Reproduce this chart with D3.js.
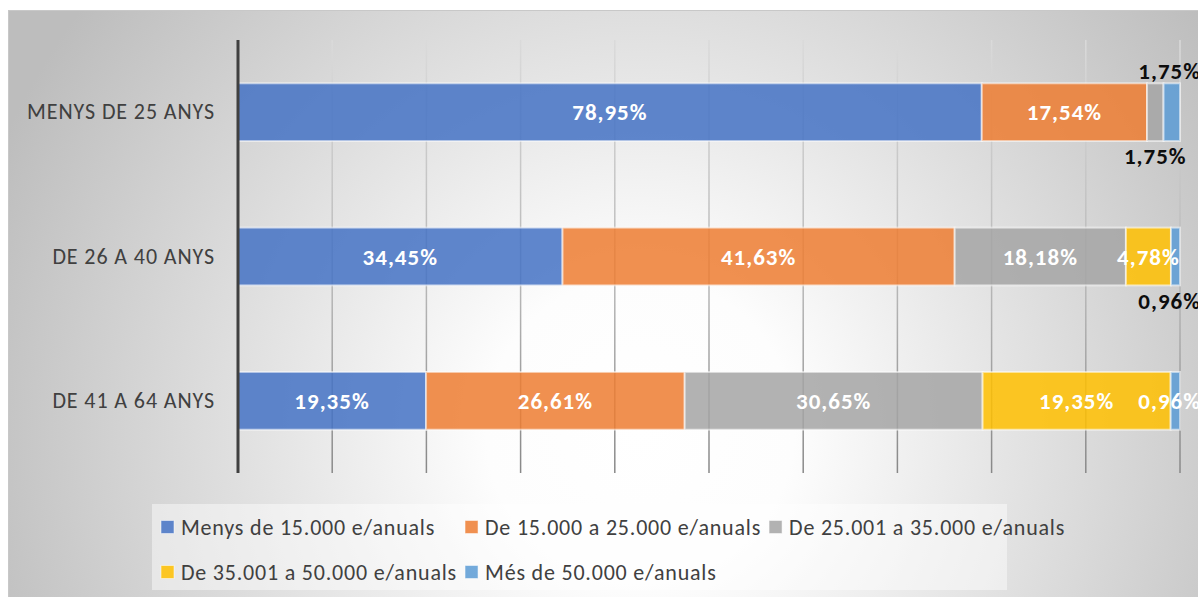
<!DOCTYPE html>
<html>
<head>
<meta charset="utf-8">
<script src="https://cdn.jsdelivr.net/npm/d3@7"></script>
<style>
  html, body { margin: 0; padding: 0; background: #ffffff; overflow: hidden; }
  svg { display: block; }
</style>
</head>
<body>
<svg id="chart" width="1198" height="597"></svg>
<script>
// Age groups (rows) and income bands (stacked series)
const categories = ["MENYS DE 25 ANYS", "DE 26 A 40 ANYS", "DE 41 A 64 ANYS"];
const seriesNames = [
  "Menys de 15.000 e/anuals",
  "De 15.000 a 25.000 e/anuals",
  "De 25.001 a 35.000 e/anuals",
  "De 35.001 a 50.000 e/anuals",
  "Més de 50.000 e/anuals"
];
const menys15000   = [78.95, 34.45, 19.35];
const de15a25000   = [17.54, 41.63, 26.61];
const de25a35000   = [1.75, 18.18, 30.65];
const de35a50000   = [0, 4.78, 19.35];
const mesDe50000   = [1.75, 0.96, 0.96];
const seriesValues = [menys15000, de15a25000, de25a35000, de35a50000, mesDe50000];
const gridTicks = [0, 0.1, 0.2, 0.3, 0.4, 0.5, 0.6, 0.7, 0.8, 0.9, 1];

const colors = ["#4472C4", "#ED7D31", "#A5A5A5", "#FFC000", "#5B9BD5"];
const FONT = "Carlito, Calibri, Lato, sans-serif";

// Labels of the thin end segments sit outside the bar
const outsideLabels = { "0-2": "below", "0-4": "above", "1-4": "below" };

const svg = d3.select("#chart");
const W = 1198, H = 597;

// Background panel with a soft radial gradient
const defs = svg.append("defs");
const rg = defs.append("radialGradient")
  .attr("id", "bg").attr("gradientUnits", "userSpaceOnUse")
  .attr("cx", 640).attr("cy", 430).attr("r", 700);
rg.append("stop").attr("offset", "0").attr("stop-color", "#ffffff");
rg.append("stop").attr("offset", "0.22").attr("stop-color", "#fdfdfd");
rg.append("stop").attr("offset", "1").attr("stop-color", "#bdbdbd");

const lg = defs.append("linearGradient")
  .attr("id", "gridGrad").attr("gradientUnits", "userSpaceOnUse")
  .attr("x1", 0).attr("y1", 40).attr("x2", 0).attr("y2", 473);
lg.append("stop").attr("offset", "0").attr("stop-color", "#dadada");
lg.append("stop").attr("offset", "0.6").attr("stop-color", "#b4b4b4");
lg.append("stop").attr("offset", "1").attr("stop-color", "#888888");

svg.append("rect")
  .attr("x", 8.5).attr("y", 10.5).attr("width", W).attr("height", H)
  .attr("fill", "url(#bg)").attr("stroke", "#c8c8c8").attr("stroke-width", 1);

// Scales
const x = d3.scaleLinear().domain([0, 1]).range([238, 1180]);
const y = d3.scaleBand().domain(categories).range([40, 473])
  .paddingInner(0.6).paddingOuter(0.3);

// Gridlines
svg.append("g").selectAll("line")
  .data(gridTicks.slice(1))
  .join("line")
  .attr("x1", d => x(d)).attr("x2", d => x(d))
  .attr("y1", 40).attr("y2", 473)
  .attr("stroke", "url(#gridGrad)").attr("stroke-width", 1.5);

// Stack normalised to 100% per row
const rows = categories.map((c, i) => {
  const r = { cat: c };
  seriesNames.forEach((s, j) => { r[s] = seriesValues[j][i]; });
  return r;
});
const stack = d3.stack().keys(seriesNames).offset(d3.stackOffsetExpand);
const layers = stack(rows);

const fmt = v => d3.format(".2f")(v).replace(".", ",") + "%";

const barG = svg.append("g");
layers.forEach((layer, j) => {
  barG.append("g").selectAll("rect")
    .data(layer.filter(d => d.data[seriesNames[j]] > 0))
    .join("rect")
    .attr("x", d => x(d[0]))
    .attr("y", d => y(d.data.cat))
    .attr("width", d => x(d[1]) - x(d[0]))
    .attr("height", y.bandwidth())
    .attr("fill", colors[j])
    .attr("fill-opacity", 0.85)
    .attr("stroke", "#ffffff").attr("stroke-opacity", 0.55).attr("stroke-width", 2);
});

// Vertical category axis
const yAxis = svg.append("g").attr("transform", "translate(238,0)")
  .call(d3.axisLeft(y).tickSize(0).tickPadding(23));
yAxis.select(".domain").attr("stroke", "#404040").attr("stroke-width", 3)
  .attr("d", "M0,40V473");
yAxis.selectAll("text")
  .attr("font-family", FONT).attr("font-size", 22).attr("letter-spacing", 0.9)
  .attr("fill", "#404040");

// Value labels
const labelG = svg.append("g");
layers.forEach((layer, j) => {
  layer.forEach((d, i) => {
    const v = d.data[seriesNames[j]];
    if (!(v > 0)) return;
    const key = i + "-" + j;
    const place = outsideLabels[key];
    const cx = (x(d[0]) + x(d[1])) / 2;
    let cy = y(d.data.cat) + y.bandwidth() / 2;
    if (place === "above") cy = y(d.data.cat) - 13;
    if (place === "below") cy = y(d.data.cat) + y.bandwidth() + 15;
    const t = labelG.append("text")
      .attr("x", cx).attr("y", cy)
      .attr("dy", "0.36em")
      .attr("text-anchor", "middle")
      .attr("font-family", FONT).attr("font-weight", "bold").attr("font-size", 23)
      .attr("letter-spacing", 1)
      .attr("fill", place ? "#0d0d0d" : "#ffffff")
      .text(fmt(v));
    const w = t.node().getComputedTextLength();
    if (cx + w / 2 > 1201) t.attr("x", 1201 - w / 2);
  });
});

// Legend
svg.append("rect")
  .attr("x", 152).attr("y", 504).attr("width", 855).attr("height", 86)
  .attr("fill", "#ffffff").attr("fill-opacity", 0.45);

const legG = svg.append("g");
const legendRows = [[0, 1, 2], [3, 4]];
const rowY = [527, 572];
const legItems = [];
legendRows.forEach((r, ri) => r.forEach((si, ci) => {
  const g = legG.append("g");
  g.append("rect").attr("width", 13).attr("height", 13)
    .attr("y", -6.5)
    .attr("fill", colors[si]).attr("fill-opacity", 0.85)
    .attr("stroke", "#ffffff").attr("stroke-opacity", 0.5);
  const t = g.append("text").attr("x", 20).attr("dy", "0.36em")
    .attr("font-family", FONT).attr("font-size", 22).attr("letter-spacing", 0.8)
    .attr("fill", "#404040")
    .text(seriesNames[si]);
  legItems.push({ g, ri, ci, w: 20 + t.node().getComputedTextLength() });
}));
// column widths from the widest item in each column
const colW = [0, 1, 2].map(c => d3.max(legItems.filter(d => d.ci === c), d => d.w));
const colX = [161];
colW.forEach((w, i) => colX.push(colX[i] + w + 8));
legItems.forEach(d => d.g.attr("transform", `translate(${colX[d.ci]},${rowY[d.ri]})`));
</script>
</body>
</html>
